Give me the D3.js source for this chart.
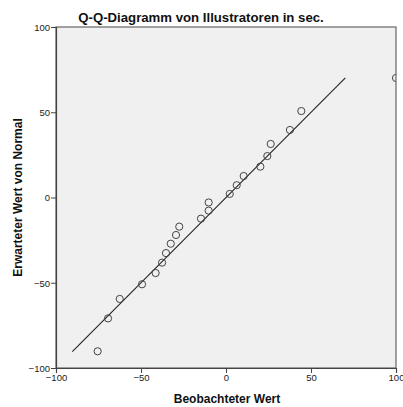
<!DOCTYPE html>
<html>
<head>
<meta charset="utf-8">
<script src="https://cdn.jsdelivr.net/npm/d3@7"></script>
<style>
  html, body { margin: 0; padding: 0; background: #fff; }
  svg { display: block; font-family: "Liberation Sans", Arial, sans-serif; }
</style>
</head>
<body>
<svg id="chart" width="403" height="407"></svg>
<script>
// Observed values (seconds) and their expected normal quantiles
const observed = [-75.5, -69.4, -62.5, -49.4, -41.4, -37.6, -35.3, -32.5, -29.4, -27.5,
                  -14.7, -10.2, -10.2, 2.2, 6.3, 10.4, 20.2, 24.3, 26.3, 37.6, 44.3, 100];
const expected = [-90.2, -70.9, -59.5, -50.9, -44.3, -38.2, -32.6, -27.1, -22.0, -17.1,
                  -12.4, -7.7, -2.9, 2.1, 7.2, 12.6, 18.1, 24.3, 31.4, 39.6, 50.7, 70.1];
// Reference line y = x
const refLineX = [-90.4, 70.2];
const refLineY = [-90.4, 70.2];
const tickValues = [-100, -50, 0, 50, 100];

const margin = { left: 56, top: 27, right: 7, bottom: 39 };
const width = 403, height = 407;
const svg = d3.select("#chart");

const x = d3.scaleLinear().domain([-100, 100]).range([margin.left, width - margin.right]);
const y = d3.scaleLinear().domain([-100, 100]).range([height - margin.bottom, margin.top]);

// Plot background
svg.append("rect")
  .attr("x", x(-100)).attr("y", y(100))
  .attr("width", x(100) - x(-100)).attr("height", y(-100) - y(100))
  .attr("fill", "#f0f0f0");

svg.append("clipPath").attr("id", "plotClip")
  .append("rect")
  .attr("x", x(-100)).attr("y", y(100))
  .attr("width", x(100) - x(-100)).attr("height", y(-100) - y(100));

const plot = svg.append("g").attr("clip-path", "url(#plotClip)");

// Reference line
plot.append("line")
  .attr("x1", x(refLineX[0])).attr("y1", y(refLineY[0]))
  .attr("x2", x(refLineX[1])).attr("y2", y(refLineY[1]))
  .attr("stroke", "#222").attr("stroke-width", 1.1);

// Points
plot.selectAll("circle")
  .data(observed.map((v, i) => [v, expected[i]]))
  .join("circle")
  .attr("cx", d => x(d[0])).attr("cy", d => y(d[1]))
  .attr("r", 3.6)
  .attr("fill", "none")
  .attr("stroke", "#444")
  .attr("stroke-width", 1);

// Frame
svg.append("rect")
  .attr("x", x(-100)).attr("y", y(100))
  .attr("width", x(100) - x(-100)).attr("height", y(-100) - y(100))
  .attr("fill", "none").attr("stroke", "#666").attr("stroke-width", 1.2);

// Axes
const xAxis = svg.append("g")
  .attr("transform", `translate(0,${y(-100)})`)
  .call(d3.axisBottom(x).tickValues(tickValues).tickSize(5).tickPadding(1).tickFormat(d3.format("d")));
const yAxis = svg.append("g")
  .attr("transform", `translate(${x(-100)},0)`)
  .call(d3.axisLeft(y).tickValues(tickValues).tickSize(5).tickPadding(1).tickFormat(d3.format("d")));

[xAxis, yAxis].forEach(g => {
  g.select(".domain").attr("stroke", "#444").attr("stroke-width", 1.2);
  g.selectAll(".tick line").attr("stroke", "#444");
  g.selectAll(".tick text")
    .attr("fill", "#222")
    .style("font-family", "'Liberation Sans', Arial, sans-serif")
    .style("font-size", "9.5px");
});
yAxis.selectAll(".tick text").attr("dy", "0.35em");

// Title
svg.append("text")
  .attr("x", 201).attr("y", 22)
  .attr("text-anchor", "middle")
  .style("font-size", "13.2px").style("font-weight", "bold")
  .attr("fill", "#111")
  .text("Q-Q-Diagramm von Illustratoren in sec.");

// Axis titles
svg.append("text")
  .attr("x", 227).attr("y", 403)
  .attr("text-anchor", "middle")
  .style("font-size", "12px").style("font-weight", "bold")
  .attr("fill", "#111")
  .text("Beobachteter Wert");

svg.append("text")
  .attr("transform", `translate(22,${y(0)}) rotate(-90)`)
  .attr("text-anchor", "middle")
  .style("font-size", "12px").style("font-weight", "bold")
  .attr("fill", "#111")
  .text("Erwarteter Wert von Normal");
</script>
</body>
</html>
